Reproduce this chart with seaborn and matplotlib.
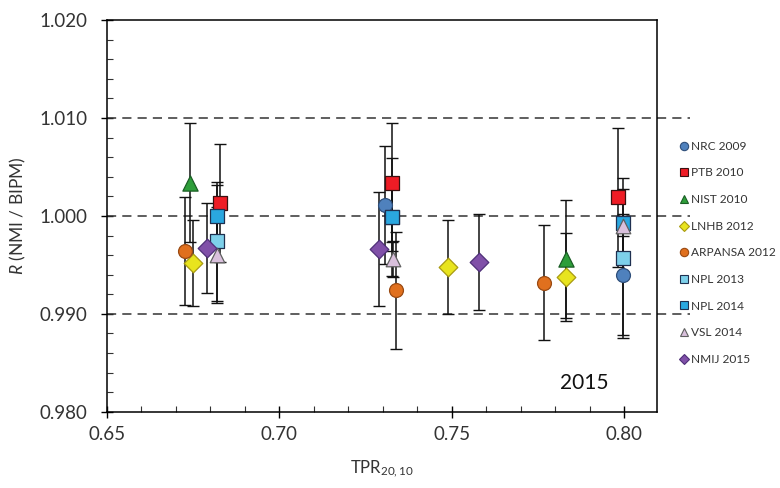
import matplotlib
matplotlib.use("Agg")
import matplotlib.pyplot as plt
from matplotlib.lines import Line2D
from matplotlib.ticker import MultipleLocator, FormatStrFormatter
import seaborn as sns
import pandas as pd

# ---------------- data ----------------
series = ["NRC 2009", "PTB 2010", "NIST 2010", "LNHB 2012", "ARPANSA 2012",
          "NPL 2013", "NPL 2014", "VSL 2014", "NMIJ 2015"]
legend_labels = ["NRC 2009", "PTB 2010", "NIST 2010", "LNHB 2012", "ARPANSA 2012",
                 "NPL 2013", "NPL 2014", "VSL 2014", "NMIJ 2015"]

nrc_x = [0.7306, 0.7996]
nrc_y = [1.0011, 0.9940]
nrc_e = [0.0060, 0.0062]

ptb_x = [0.6828, 0.7326, 0.7981]
ptb_y = [1.0013, 1.0034, 1.0019]
ptb_e = [0.0060, 0.0061, 0.0071]

nist_x = [0.6741, 0.7830]
nist_y = [1.0034, 0.9956]
nist_e = [0.0061, 0.0060]

lnhb_x = [0.6749, 0.7488, 0.7830]
lnhb_y = [0.9952, 0.9948, 0.9938]
lnhb_e = [0.0044, 0.0048, 0.0045]

arpansa_x = [0.6726, 0.7338, 0.7767]
arpansa_y = [0.9964, 0.9924, 0.9932]
arpansa_e = [0.0055, 0.0060, 0.0059]

npl13_x = [0.6819, 0.7326, 0.7996]
npl13_y = [0.9974, 0.9999, 0.9957]
npl13_e = [0.0061, 0.0060, 0.0082]

npl14_x = [0.6819, 0.7326, 0.7996]
npl14_y = [1.0000, 0.9999, 0.9993]
npl14_e = [0.0032, 0.0035, 0.0035]

vsl_x = [0.6819, 0.7329, 0.7996]
vsl_y = [0.9960, 0.9956, 0.9990]
vsl_e = [0.0049, 0.0018, 0.0010]

nmij_x = [0.6790, 0.7288, 0.7578]
nmij_y = [0.9967, 0.9966, 0.9953]
nmij_e = [0.0046, 0.0058, 0.0049]

xs = [nrc_x, ptb_x, nist_x, lnhb_x, arpansa_x, npl13_x, npl14_x, vsl_x, nmij_x]
ys = [nrc_y, ptb_y, nist_y, lnhb_y, arpansa_y, npl13_y, npl14_y, vsl_y, nmij_y]
es = [nrc_e, ptb_e, nist_e, lnhb_e, arpansa_e, npl13_e, npl14_e, vsl_e, nmij_e]

y_ticks = [0.980, 0.990, 1.000, 1.010, 1.020]
x_ticks = [0.65, 0.70, 0.75, 0.80]
ref_lines = [0.990, 1.000, 1.010]

# ---------------- style ----------------
markers = ["o", "s", "^", "D", "o", "s", "s", "^", "D"]
sizes = [100, 105, 120, 90, 100, 105, 105, 110, 90]
fills = ["#4F81BD", "#EE1C25", "#2E9E3A", "#E8E41E", "#E0701E",
         "#7DD0EA", "#2AA7E0", "#D9C0DC", "#8050A8"]
edges = ["#2F4F7A", "#3A1010", "#1A5E25", "#A89A10", "#9A4A12",
         "#1F3050", "#1F3050", "#606060", "#4E2F78"]

sns.set_theme(style="white")
plt.rcParams["font.family"] = ["Lato", "DejaVu Sans"]
plt.rcParams["mathtext.fontset"] = "custom"
plt.rcParams["mathtext.rm"] = "Lato"
plt.rcParams["mathtext.it"] = "Lato:italic"

fig = plt.figure(figsize=(7.8, 4.88), dpi=100)
ax = fig.add_axes([0.137, 0.156, 0.842 - 0.137, 0.959 - 0.156])

frames = []
for name, x, y, e in zip(series, xs, ys, es):
    frames.append(pd.DataFrame({"series": name, "TPR": x, "R": y, "err": e}))
df = pd.concat(frames, ignore_index=True)

for name in series:
    sub = df[df["series"] == name]
    ax.errorbar(sub["TPR"], sub["R"], yerr=sub["err"], fmt="none",
                ecolor="#111111", elinewidth=1.1, capsize=4, capthick=1.0, zorder=2)

for i, name in enumerate(series):
    sub = df[df["series"] == name]
    sns.scatterplot(data=sub, x="TPR", y="R", ax=ax, marker=markers[i], s=sizes[i],
                    color=fills[i], edgecolor=edges[i], linewidth=0.9,
                    zorder=3, legend=False)

for yv in ref_lines:
    ax.axhline(yv, xmin=0, xmax=(690 - 107) / 550, color="#333333", lw=1.1,
               ls=(0, (6, 4)), clip_on=False, zorder=1)

ax.set_xlim(0.65, 0.8094)
ax.set_ylim(0.980, 1.020)
ax.set_xticks(x_ticks)
ax.set_yticks(y_ticks)
ax.xaxis.set_major_formatter(FormatStrFormatter("%.2f"))
ax.yaxis.set_major_formatter(FormatStrFormatter("%.3f"))
ax.xaxis.set_minor_locator(MultipleLocator(0.01))
ax.yaxis.set_minor_locator(MultipleLocator(0.002))
ax.tick_params(axis="both", which="major", direction="inout", length=8, width=1,
               color="black", labelsize=13.5, labelcolor="#333333",
               bottom=True, left=True)
ax.tick_params(axis="y", which="major", pad=10)
ax.tick_params(axis="x", which="major", pad=6)
ax.tick_params(axis="both", which="minor", direction="in", length=4, width=0.8,
               color="#333333", bottom=True, left=True)
for sp in ax.spines.values():
    sp.set_color("black")
    sp.set_linewidth(1.1)

ax.set_xlabel("TPR$_{20,10}$", fontsize=12, color="#333333", labelpad=11)
ax.set_ylabel(r"$\mathit{R}$ (NMI / BIPM)", fontsize=12.5, color="#333333", labelpad=8)

ax.text(0.869, 0.074, "2015", transform=ax.transAxes, fontsize=15,
        ha="center", va="center", color="#111111")

handles = []
for i in range(len(series)):
    handles.append(Line2D([], [], linestyle="none", marker=markers[i],
                          markersize=6 if markers[i] != "D" else 5,
                          markerfacecolor=fills[i], markeredgecolor=edges[i],
                          markeredgewidth=0.8))
leg = ax.legend(handles, legend_labels, loc="upper left",
                bbox_to_anchor=(1.03, 0.704), frameon=False, fontsize=8.6,
                labelspacing=1.31, handletextpad=0.1, handlelength=1.0,
                borderaxespad=0)
for t in leg.get_texts():
    t.set_color("#333333")

fig.savefig("out.png", dpi=100, facecolor="white")
